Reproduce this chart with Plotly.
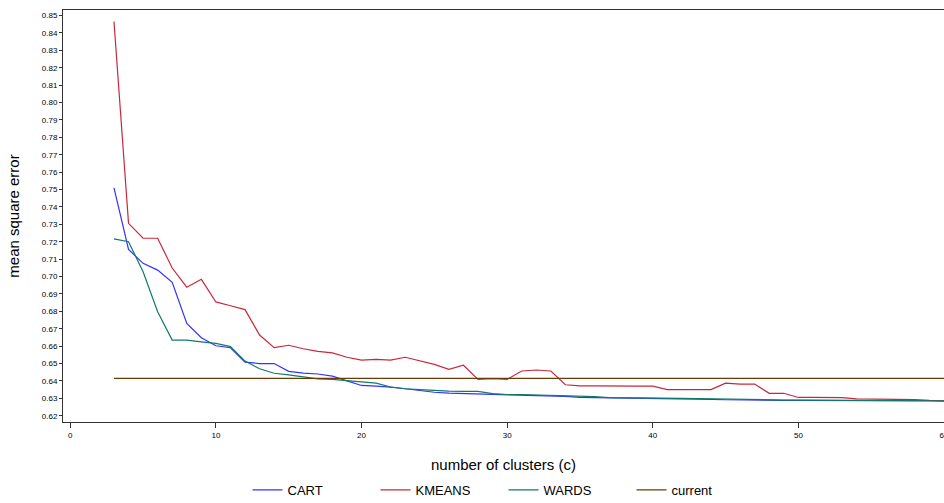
import plotly.graph_objects as go

clusters = list(range(3, 61))

cart = [0.7510, 0.7156, 0.7076, 0.7037, 0.6967, 0.6731, 0.6648, 0.6602, 0.6591, 0.6508,
        0.6500, 0.6500, 0.6455, 0.6445, 0.6440, 0.6428, 0.6400, 0.6374, 0.6370, 0.6365,
        0.6355, 0.6345, 0.6335, 0.6330, 0.6328, 0.6325, 0.6322, 0.6319, 0.6316, 0.6314,
        0.6312, 0.6311, 0.6305, 0.6304, 0.6304, 0.6303, 0.6303, 0.6302, 0.6300, 0.6298,
        0.6296, 0.6294, 0.6292, 0.6290, 0.6289, 0.6288, 0.6288, 0.6288, 0.6288, 0.6288,
        0.6287, 0.6287, 0.6287, 0.6286, 0.6286, 0.6286, 0.6285, 0.6285]

kmeans = [0.8466, 0.7306, 0.7220, 0.7220, 0.7049, 0.6939, 0.6984, 0.6854, 0.6832, 0.6810,
          0.6664, 0.6591, 0.6605, 0.6585, 0.6570, 0.6561, 0.6536, 0.6520, 0.6524, 0.6520,
          0.6536, 0.6514, 0.6495, 0.6467, 0.6490, 0.6409, 0.6413, 0.6409, 0.6457, 0.6463,
          0.6457, 0.6378, 0.6372, 0.6372, 0.6370, 0.6370, 0.6370, 0.6370, 0.6350, 0.6350,
          0.6350, 0.6350, 0.6387, 0.6382, 0.6382, 0.6329, 0.6329, 0.6305, 0.6305, 0.6305,
          0.6304, 0.6297, 0.6297, 0.6296, 0.6295, 0.6293, 0.6288, 0.6285]

wards = [0.7217, 0.7200, 0.7028, 0.6798, 0.6635, 0.6635, 0.6625, 0.6616, 0.6597, 0.6514,
         0.6470, 0.6444, 0.6435, 0.6425, 0.6412, 0.6409, 0.6402, 0.6396, 0.6387, 0.6365,
         0.6355, 0.6350, 0.6345, 0.6341, 0.6340, 0.6340, 0.6327, 0.6322, 0.6322, 0.6320,
         0.6318, 0.6315, 0.6313, 0.6310, 0.6304, 0.6304, 0.6303, 0.6303, 0.6302, 0.6300,
         0.6299, 0.6297, 0.6296, 0.6296, 0.6294, 0.6292, 0.6290, 0.6290, 0.6290, 0.6289,
         0.6289, 0.6288, 0.6288, 0.6287, 0.6287, 0.6287, 0.6286, 0.6285]

current_value = 0.6415
current = [current_value] * len(clusters)

y_ticks = [round(0.62 + 0.01 * i, 2) for i in range(24)]
x_ticks = [0, 10, 20, 30, 40, 50, 60]

FONT = "Liberation Sans, Arial, sans-serif"

fig = go.Figure()
series = [
    ("CART", cart, "#3333ff"),
    ("KMEANS", kmeans, "#c8283c"),
    ("WARDS", wards, "#117a68"),
    ("current", current, "#6b3a05"),
]
for name, vals, col in series:
    fig.add_trace(go.Scatter(x=clusters, y=vals, mode="lines", name=name,
                             line=dict(color=col, width=1.2)))

fig.update_layout(
    width=944, height=503,
    margin=dict(l=63, r=0, t=10, b=81, autoexpand=False),
    paper_bgcolor="white", plot_bgcolor="white",
    font=dict(family=FONT, size=11, color="black"),
    showlegend=True,
    legend=dict(orientation="h", x=0.5, xanchor="center", y=-0.165, yanchor="middle",
                font=dict(size=13), entrywidth=83, entrywidthmode="pixels",
                itemwidth=30, bgcolor="rgba(0,0,0,0)"),
    xaxis=dict(range=[-0.5, 60], tickvals=x_ticks, ticks="outside", ticklen=5,
               tickcolor="#333", showgrid=False, zeroline=False, automargin=False,
               showline=True, linecolor="#333", linewidth=1, mirror=True,
               tickfont=dict(size=8), ticklabeloverflow="allow",
               title=dict(text="number of clusters (c)", font=dict(size=15), standoff=20)),
    yaxis=dict(range=[0.6164, 0.8532], tickvals=y_ticks,
               ticktext=[f"{v:.2f}" for v in y_ticks],
               ticks="outside", ticklen=3, tickcolor="#333",
               showgrid=False, zeroline=False, automargin=False,
               showline=True, linecolor="#333", linewidth=1, mirror=True,
               tickfont=dict(size=8),
               title=dict(text="mean square error", font=dict(size=15), standoff=18)),
)

fig.write_html("out.html", config={"displayModeBar": False},
               post_script="document.body.style.margin='0';document.body.style.overflow='hidden';")
